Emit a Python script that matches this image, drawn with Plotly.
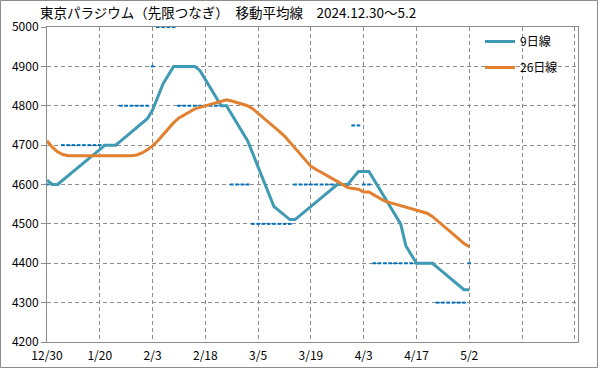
import plotly.graph_objects as go

# ---- data ----
tick_labels = ["12/30", "1/20", "2/3", "2/18", "3/5", "3/19", "4/3", "4/17", "5/2"]
# trading-day index (0 = 2024/12/30, 80 = 2025/5/2)
day_index = list(range(81))

close_price = [
    4600, 4600, 4600, 4700, 4700, 4700, 4700, 4700, 4700, 4700,
    4700, 4700, 4700, 4700, 4800, 4800, 4800, 4800, 4800, 4800,
    4900, 5000, 5000, 5000, 5000, 4800, 4800, 4800, 4800, 4800,
    4800, 4800, 4800, 4800, 4800, 4600, 4600, 4600, 4600, 4500,
    4500, 4500, 4500, 4500, 4500, 4500, 4500, 4600, 4600, 4600,
    4600, 4600, 4600, 4600, 4600, 4600, 4600, 4600, 4750, 4750,
    4600, 4600, 4400, 4400, 4400, 4400, 4400, 4400, 4400, 4400,
    4400, 4400, 4400, 4400, 4300, 4300, 4300, 4300, 4300, 4300,
    4400,
]

ma9 = [
    4611, 4600, 4600, 4611, 4622, 4633, 4644, 4656, 4667, 4678,
    4689, 4700, 4700, 4700, 4711, 4722, 4733, 4744, 4756, 4767,
    4789, 4822, 4856, 4878, 4900, 4900, 4900, 4900, 4900, 4889,
    4867, 4844, 4822, 4800, 4800, 4778, 4756, 4733, 4711, 4678,
    4644, 4611, 4578, 4544, 4533, 4522, 4511, 4511, 4522, 4533,
    4544, 4556, 4567, 4578, 4589, 4600, 4600, 4600, 4617, 4633,
    4633, 4633, 4611, 4589, 4567, 4544, 4522, 4500, 4444, 4422,
    4400, 4400, 4400, 4400, 4389, 4378, 4367, 4356, 4344, 4333,
    4333,
]

ma26 = [
    4711, 4695, 4683, 4676, 4673, 4673, 4673, 4673, 4673, 4673,
    4673, 4673, 4673, 4673, 4673, 4673, 4673, 4675, 4680, 4688,
    4698, 4711, 4726, 4741, 4757, 4769, 4777, 4785, 4792, 4796,
    4800, 4804, 4808, 4812, 4815, 4812, 4808, 4804, 4800, 4792,
    4781, 4769, 4758, 4746, 4735, 4723, 4708, 4692, 4677, 4662,
    4646, 4638, 4631, 4623, 4615, 4608, 4600, 4592, 4590, 4588,
    4581, 4581, 4573, 4565, 4558, 4554, 4550, 4546, 4542, 4538,
    4535, 4531, 4527, 4519, 4508, 4496, 4485, 4473, 4462, 4450,
    4442,
]

title_text = "東京パラジウム（先限つなぎ）　移動平均線　2024.12.30～5.2"

# ---- figure ----
W, H = 599, 369
L, R, T, B = 47, 21, 27, 27
GRID = "#8C8C8C"
FONT = "Noto Sans CJK JP"

fig = go.Figure()
fig.add_trace(go.Scatter(
    x=day_index, y=close_price, mode="markers", name="終値", showlegend=False,
    marker=dict(symbol="line-ew", size=2.6, color="#0070C0",
                line=dict(color="#0070C0", width=2)),
))
fig.add_trace(go.Scatter(
    x=day_index, y=ma9, mode="lines", name="9日線", legendgroup="a",
    line=dict(color="#3F9AB3", width=3),
))
fig.add_trace(go.Scatter(
    x=day_index, y=ma26, mode="lines", name="26日線", legendgroup="b",
    line=dict(color="#E3802F", width=3),
))

pw = W - L - R
ph = H - T - B
fig.update_layout(
    width=W, height=H, autosize=False,
    margin=dict(l=L, r=R, t=T, b=B, pad=0, autoexpand=False),
    paper_bgcolor="white", plot_bgcolor="white",
    font=dict(family=FONT, size=12, color="#000000"),
    title=dict(text=title_text, xref="container", yref="container",
               x=40 / W, xanchor="left", y=1 - 13 / H, yanchor="middle",
               automargin=False,
               font=dict(family=FONT, size=13.5, color="#000000")),
    legend=dict(x=(480 - L) / pw, y=1.0, xanchor="left", yanchor="top",
                bgcolor="rgba(0,0,0,0)", font=dict(family=FONT, size=12),
                traceorder="grouped", tracegroupgap=7),
    xaxis=dict(
        range=[0, 100.6], automargin=False,
        tickvals=list(range(0, 101, 10)),
        ticktext=tick_labels + ["", ""],
        showgrid=True, gridcolor=GRID, gridwidth=1, griddash="4px,3px",
        showline=True, linecolor=GRID, linewidth=1, mirror=True,
        zeroline=False, ticks="", fixedrange=True, ticklabelstandoff=3,
        tickfont=dict(family=FONT, size=12, color="#000000"),
    ),
    yaxis=dict(
        range=[4200, 5000], tick0=4200, dtick=100, automargin=False,
        showgrid=True, gridcolor=GRID, gridwidth=1, griddash="4px,3px",
        showline=True, linecolor=GRID, linewidth=1, mirror=True,
        zeroline=False, ticks="outside", ticklen=5, tickcolor=GRID,
        fixedrange=True,
        tickfont=dict(family=FONT, size=12, color="#000000"),
    ),
    shapes=[dict(type="rect", xref="paper", yref="paper",
                 x0=-(L - 0.5) / pw, x1=1 + (R - 1.5) / pw,
                 y0=-(B - 1.5) / ph, y1=1 + (T - 0.5) / ph,
                 line=dict(color="#8C8C8C", width=1), fillcolor="rgba(0,0,0,0)",
                 layer="below")],
)

fig.write_html("out.html", config={"displayModeBar": False},
               post_script="document.body.style.margin='0';document.body.style.padding='0';")
